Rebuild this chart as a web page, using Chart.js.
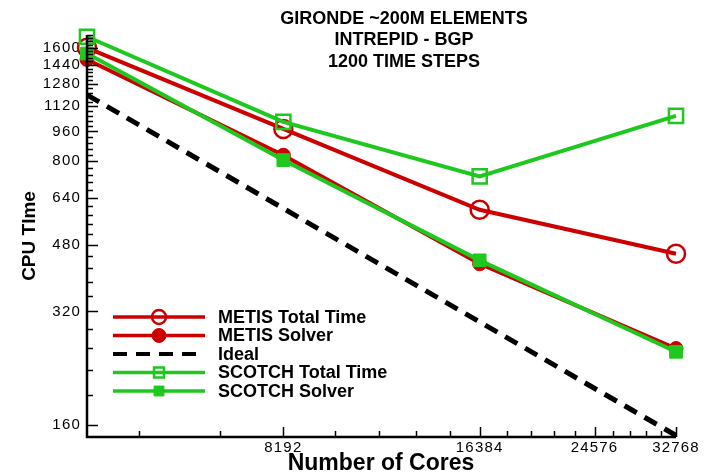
<!DOCTYPE html>
<html>
<head>
<meta charset="utf-8">
<script src="https://cdn.jsdelivr.net/npm/chart.js@4.4.1/dist/chart.umd.min.js"></script>
<style>
  html, body { margin: 0; padding: 0; background: #fff; }
  #myChart { display: block; }
</style>
</head>
<body>
<canvas id="myChart" width="712" height="473"></canvas>
<script>
// scaling runs, CPU time per partitioner
const cores = [4096, 8192, 16384, 32768];
const metisTotal = [1600, 975, 595, 455];
const metisSolver = [1490, 830, 428, 255];
const ideal = [1200, 600, 300, 150];
const scotchTotal = [1712, 1018, 730, 1056];
const scotchSolver = [1545, 806, 437, 250];

const titleLines = ['GIRONDE ~200M ELEMENTS', 'INTREPID - BGP', '1200 TIME STEPS'];
const yLabels = [160, 320, 480, 640, 800, 960, 1120, 1280, 1440, 1600];
const xLabels = [8192, 16384, 24576, 32768];

const RED = 'rgb(204,0,0)';
const GREEN = 'rgb(30,200,30)';
const FONT = '"Liberation Sans", Arial, Helvetica, sans-serif';

const yMin = 148.6, yMax = 1730;

function pts(vals) {
  return cores.map((c, i) => ({ x: c, y: vals[i] }));
}

// axes, tick marks (inside the frame), titles and the legend box
const decor = {
  id: 'decor',
  beforeDraw(chart) {
    chart.ctx.letterSpacing = '1.2px';
  },
  afterDatasetsDraw(chart) {
    const ctx = chart.ctx;
    const a = chart.chartArea;
    const xs = chart.scales.x, ys = chart.scales.y;
    ctx.save();
    ctx.strokeStyle = '#000';
    ctx.lineWidth = 1.5;
    ys.ticks.forEach(t => {
      const y = Math.round(ys.getPixelForValue(t.value)) + 0.5;
      const len = yLabels.includes(t.value) ? 11 : 6;
      ctx.beginPath();
      ctx.moveTo(a.left, y);
      ctx.lineTo(a.left + len, y);
      ctx.stroke();
    });
    xs.ticks.forEach(t => {
      const x = Math.round(xs.getPixelForValue(t.value)) + 0.5;
      const len = xLabels.includes(t.value) ? 10 : 6;
      ctx.beginPath();
      ctx.moveTo(x, a.bottom);
      ctx.lineTo(x, a.bottom - len);
      ctx.stroke();
    });
    ctx.lineWidth = 2.5;
    ctx.beginPath();
    ctx.moveTo(a.left, a.top);
    ctx.lineTo(a.left, a.bottom);
    ctx.lineTo(a.right, a.bottom);
    ctx.stroke();
    ctx.restore();
  },
  afterDraw(chart) {
    const ctx = chart.ctx;
    ctx.save();
    ctx.letterSpacing = '0px';
    ctx.fillStyle = '#000';
    ctx.textAlign = 'center';
    ctx.textBaseline = 'middle';
    ctx.font = 'bold 18px ' + FONT;
    titleLines.forEach((s, i) => ctx.fillText(s, 404, 19 + i * 21.5));

    ctx.font = 'bold 23px ' + FONT;
    ctx.fillText('Number of Cores', 381, 464);

    ctx.save();
    ctx.translate(30, 236);
    ctx.rotate(-Math.PI / 2);
    ctx.font = 'bold 19px ' + FONT;
    ctx.fillText('CPU TIme', 0, 0);
    ctx.restore();

    // legend
    const x0 = 113, x1 = 205, xm = 159, y0 = 317, dy = 18.5;
    chart.data.datasets.forEach((ds, i) => {
      const y = y0 + i * dy;
      ctx.save();
      ctx.strokeStyle = ds.borderColor;
      ctx.lineWidth = ds.legendWidth;
      ctx.setLineDash(ds.borderDash || []);
      ctx.beginPath();
      ctx.moveTo(x0, y);
      ctx.lineTo(x1, y);
      ctx.stroke();
      ctx.restore();
      if (ds.pointRadius > 0) {
        ctx.save();
        ctx.strokeStyle = ds.pointBorderColor;
        ctx.fillStyle = ds.pointBackgroundColor;
        ctx.lineWidth = ds.pointBorderWidth;
        Chart.helpers.drawPoint(ctx, {
          pointStyle: ds.pointStyle,
          radius: ds.legendRadius,
          rotation: 0,
          borderWidth: ds.pointBorderWidth
        }, xm, y);
        ctx.restore();
      }
      ctx.textAlign = 'left';
      ctx.font = 'bold 18px ' + FONT;
      ctx.fillText(ds.label, 218, y + 1);
    });
    ctx.restore();
  }
};

const ctx = document.getElementById('myChart');

new Chart(ctx, {
  type: 'line',
  data: {
    datasets: [
      {
        label: 'METIS Total Time',
        data: pts(metisTotal),
        borderColor: RED, borderWidth: 4, legendWidth: 3.5,
        pointStyle: 'circle', pointRadius: 9, legendRadius: 7,
        pointBorderColor: RED, pointBackgroundColor: 'rgba(0,0,0,0)', pointBorderWidth: 2.5,
        order: 3
      },
      {
        label: 'METIS Solver',
        data: pts(metisSolver),
        borderColor: RED, borderWidth: 4, legendWidth: 3.5,
        pointStyle: 'circle', pointRadius: 7, legendRadius: 7,
        pointBorderColor: RED, pointBackgroundColor: RED, pointBorderWidth: 1,
        order: 2
      },
      {
        label: 'Ideal',
        data: pts(ideal),
        borderColor: '#000', borderWidth: 5, legendWidth: 4,
        borderDash: [14, 9],
        pointRadius: 0,
        order: 4
      },
      {
        label: 'SCOTCH Total Time',
        data: pts(scotchTotal),
        borderColor: GREEN, borderWidth: 4, legendWidth: 3.5,
        pointStyle: 'rect', pointRadius: 10, legendRadius: 7,
        pointBorderColor: GREEN, pointBackgroundColor: 'rgba(0,0,0,0)', pointBorderWidth: 2.5,
        order: 1
      },
      {
        label: 'SCOTCH Solver',
        data: pts(scotchSolver),
        borderColor: GREEN, borderWidth: 4, legendWidth: 3.5,
        pointStyle: 'rect', pointRadius: 9, legendRadius: 7,
        pointBorderColor: GREEN, pointBackgroundColor: GREEN, pointBorderWidth: 1,
        order: 0
      }
    ]
  },
  options: {
    responsive: false,
    devicePixelRatio: 1,
    animation: false,
    clip: false,
    layout: { padding: { left: 0, right: 36, top: 35, bottom: 0 } },
    elements: { line: { tension: 0 } },
    plugins: {
      legend: { display: false },
      tooltip: { enabled: false },
      title: { display: false }
    },
    scales: {
      x: {
        type: 'logarithmic',
        min: 4096,
        max: 32768,
        afterBuildTicks: s => {
          const t = [];
          for (let k = 3; k <= 20; k++) t.push({ value: (k * 8192) / 5 });
          s.ticks = t;
        },
        afterFit: s => { s.height = 36; },
        grid: { display: false, drawTicks: false },
        border: { display: false },
        ticks: {
          autoSkip: false,
          maxRotation: 0,
          padding: 2,
          color: '#000',
          font: { family: FONT, size: 15 },
          callback: v => xLabels.includes(v) ? String(v) : ''
        }
      },
      y: {
        type: 'logarithmic',
        min: yMin,
        max: yMax,
        afterBuildTicks: s => {
          const t = [];
          for (let v = 160; v <= yMax; v += 32) t.push({ value: v });
          s.ticks = t;
        },
        afterFit: s => { s.width = 87; },
        grid: { display: false, drawTicks: false },
        border: { display: false },
        ticks: {
          autoSkip: false,
          padding: 6,
          color: '#000',
          font: { family: FONT, size: 15 },
          callback: v => yLabels.includes(v) ? String(v) : ''
        }
      }
    }
  },
  plugins: [decor]
});
</script>
</body>
</html>
